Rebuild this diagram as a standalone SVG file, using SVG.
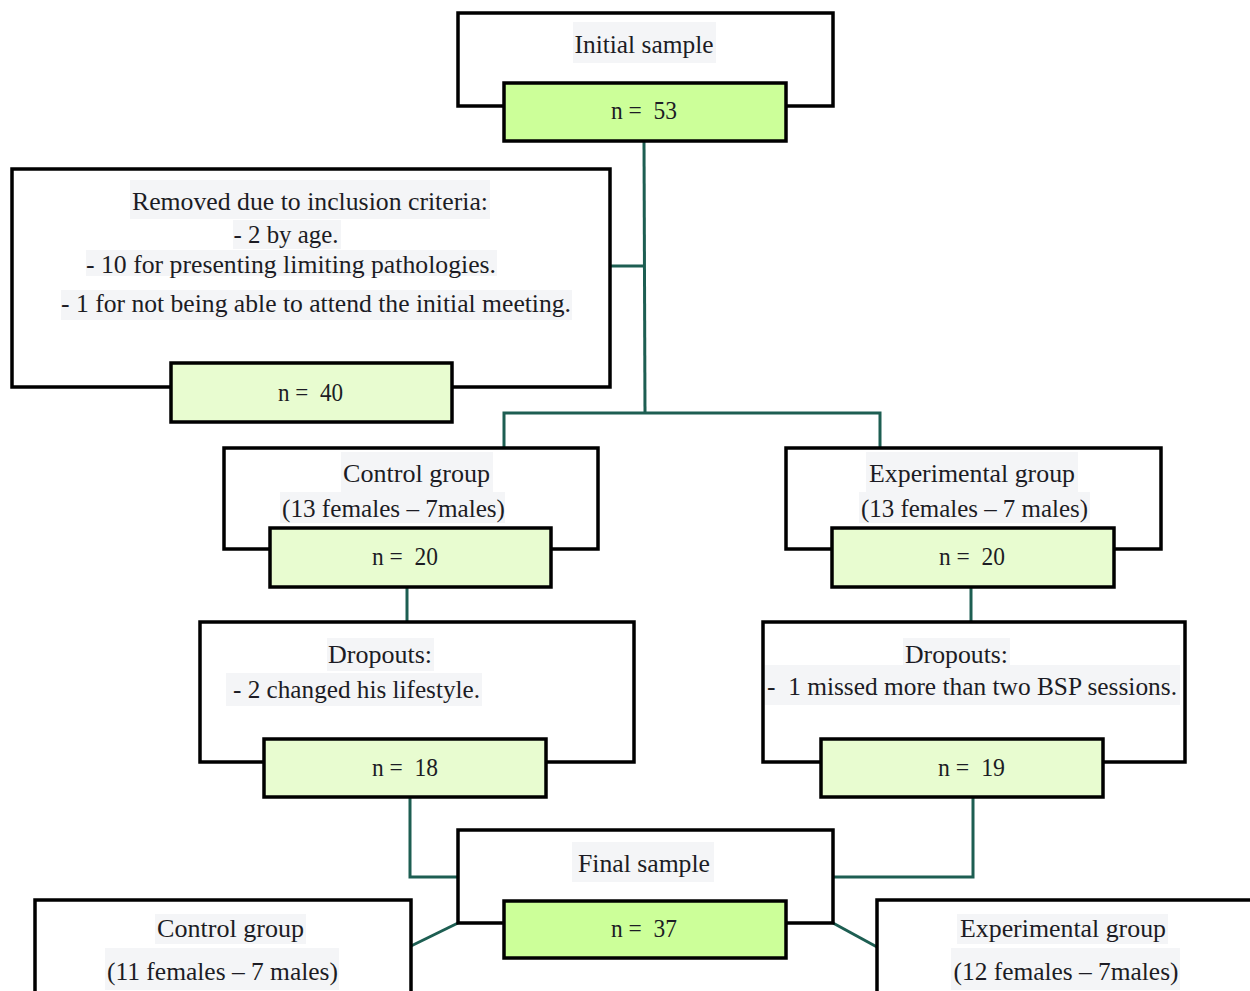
<svg xmlns="http://www.w3.org/2000/svg" width="1250" height="991" viewBox="0 0 1250 991">
<style>
.frame{fill:#fff;stroke:#000;stroke-width:3.5}
.g1{fill:#ccff99;stroke:#000;stroke-width:3.5}
.g2{fill:#e8fcd0;stroke:#000;stroke-width:3.5}
.bg{fill:#f4f5f7}
.t{font-family:"Liberation Serif","Times New Roman",serif;font-size:25.5px;fill:#1c1c24;text-anchor:middle;white-space:pre}
.c{fill:none;stroke:#1d5e52;stroke-width:3}
</style>
<rect width="1250" height="991" fill="#fff"/>
<g id="connectors">
<path class="c" d="M644,141 L645,413"/>
<path class="c" d="M610,266 L644,266"/>
<path class="c" d="M504,448 L504,413 L880,413 L880,448"/>
<path class="c" d="M407,587 L407,622"/>
<path class="c" d="M971,587 L971,622"/>
<path class="c" d="M410,797 L410,877 L458,877"/>
<path class="c" d="M973,797 L973,877 L833,877"/>
<path class="c" d="M458,923 L411,946"/>
<path class="c" d="M833,923 L877,947"/>
</g>
<g id="initial">
<rect class="frame" x="458" y="13" width="375" height="93"/>
<rect class="bg" x="573" y="22" width="143" height="41"/>
<text class="t" x="644" y="53" textLength="139" lengthAdjust="spacingAndGlyphs">Initial sample</text>
<rect class="g1" x="504" y="83" width="282" height="58"/>
<text class="t" x="644" y="119" textLength="66" lengthAdjust="spacingAndGlyphs">n =  53</text>
</g>
<g id="removed">
<rect class="frame" x="12" y="169" width="598" height="218"/>
<rect class="bg" x="130" y="180" width="360" height="39"/>
<rect class="bg" x="233" y="220" width="108" height="29"/>
<rect class="bg" x="86" y="250" width="411" height="26"/>
<rect class="bg" x="61" y="290" width="511" height="30"/>
<text class="t" x="310" y="210" textLength="356" lengthAdjust="spacingAndGlyphs">Removed due to inclusion criteria:</text>
<text class="t" x="286" y="243" textLength="105" lengthAdjust="spacingAndGlyphs">- 2 by age.</text>
<text class="t" x="291" y="273" textLength="410" lengthAdjust="spacingAndGlyphs">- 10 for presenting limiting pathologies.</text>
<text class="t" x="316" y="312" textLength="510" lengthAdjust="spacingAndGlyphs">- 1 for not being able to attend the initial meeting.</text>
<rect class="g2" x="171" y="363" width="281" height="59"/>
<text class="t" x="310.5" y="401" textLength="65" lengthAdjust="spacingAndGlyphs">n =  40</text>
</g>
<g id="control">
<rect class="frame" x="224" y="448" width="374" height="101"/>
<rect class="bg" x="341" y="452" width="152" height="40"/>
<rect class="bg" x="280" y="492" width="225" height="31"/>
<text class="t" x="416.5" y="482" textLength="147" lengthAdjust="spacingAndGlyphs">Control group</text>
<text class="t" x="393.5" y="517" textLength="223" lengthAdjust="spacingAndGlyphs">(13 females – 7males)</text>
<rect class="g2" x="270" y="528" width="281" height="59"/>
<text class="t" x="405" y="565" textLength="66" lengthAdjust="spacingAndGlyphs">n =  20</text>
</g>
<g id="experimental">
<rect class="frame" x="786" y="448" width="375" height="101"/>
<rect class="bg" x="866" y="452" width="212" height="40"/>
<rect class="bg" x="859" y="492" width="231" height="31"/>
<text class="t" x="972" y="482" textLength="206" lengthAdjust="spacingAndGlyphs">Experimental group</text>
<text class="t" x="974.5" y="517" textLength="227" lengthAdjust="spacingAndGlyphs">(13 females – 7 males)</text>
<rect class="g2" x="832" y="528" width="282" height="59"/>
<text class="t" x="972" y="565" textLength="66" lengthAdjust="spacingAndGlyphs">n =  20</text>
</g>
<g id="dropouts-control">
<rect class="frame" x="200" y="622" width="434" height="140"/>
<rect class="bg" x="327" y="638" width="107" height="33"/>
<rect class="bg" x="226" y="673" width="256" height="33"/>
<text class="t" x="380" y="663" textLength="104" lengthAdjust="spacingAndGlyphs">Dropouts:</text>
<text class="t" x="356.5" y="698" textLength="247" lengthAdjust="spacingAndGlyphs">- 2 changed his lifestyle.</text>
<rect class="g2" x="264" y="739" width="282" height="58"/>
<text class="t" x="405" y="776" textLength="66" lengthAdjust="spacingAndGlyphs">n =  18</text>
</g>
<g id="dropouts-experimental">
<rect class="frame" x="763" y="622" width="422" height="140"/>
<rect class="bg" x="903" y="638" width="107" height="27"/>
<rect class="bg" x="765" y="665" width="415" height="40"/>
<text class="t" x="956.5" y="663" textLength="103" lengthAdjust="spacingAndGlyphs">Dropouts:</text>
<text class="t" x="972" y="695" textLength="410" lengthAdjust="spacingAndGlyphs">-  1 missed more than two BSP sessions.</text>
<rect class="g2" x="821" y="739" width="282" height="58"/>
<text class="t" x="971.5" y="776" textLength="67" lengthAdjust="spacingAndGlyphs">n =  19</text>
</g>
<g id="final">
<rect class="frame" x="458" y="830" width="375" height="93"/>
<rect class="bg" x="572" y="842" width="142" height="40"/>
<text class="t" x="644" y="872" textLength="132" lengthAdjust="spacingAndGlyphs">Final sample</text>
<rect class="g1" x="504" y="901" width="282" height="57"/>
<text class="t" x="644" y="937" textLength="66" lengthAdjust="spacingAndGlyphs">n =  37</text>
</g>
<g id="final-control">
<rect class="frame" x="35" y="900" width="376" height="110"/>
<rect class="bg" x="155" y="914" width="151" height="30"/>
<rect class="bg" x="105" y="948" width="234" height="42"/>
<text class="t" x="230.5" y="937" textLength="147" lengthAdjust="spacingAndGlyphs">Control group</text>
<text class="t" x="222.5" y="980" textLength="231" lengthAdjust="spacingAndGlyphs">(11 females – 7 males)</text>
</g>
<g id="final-experimental">
<rect class="frame" x="877" y="900" width="400" height="110"/>
<rect class="bg" x="957" y="914" width="211" height="30"/>
<rect class="bg" x="951" y="948" width="229" height="42"/>
<text class="t" x="1063" y="937" textLength="206" lengthAdjust="spacingAndGlyphs">Experimental group</text>
<text class="t" x="1066" y="980" textLength="225" lengthAdjust="spacingAndGlyphs">(12 females – 7males)</text>
</g>
</svg>
